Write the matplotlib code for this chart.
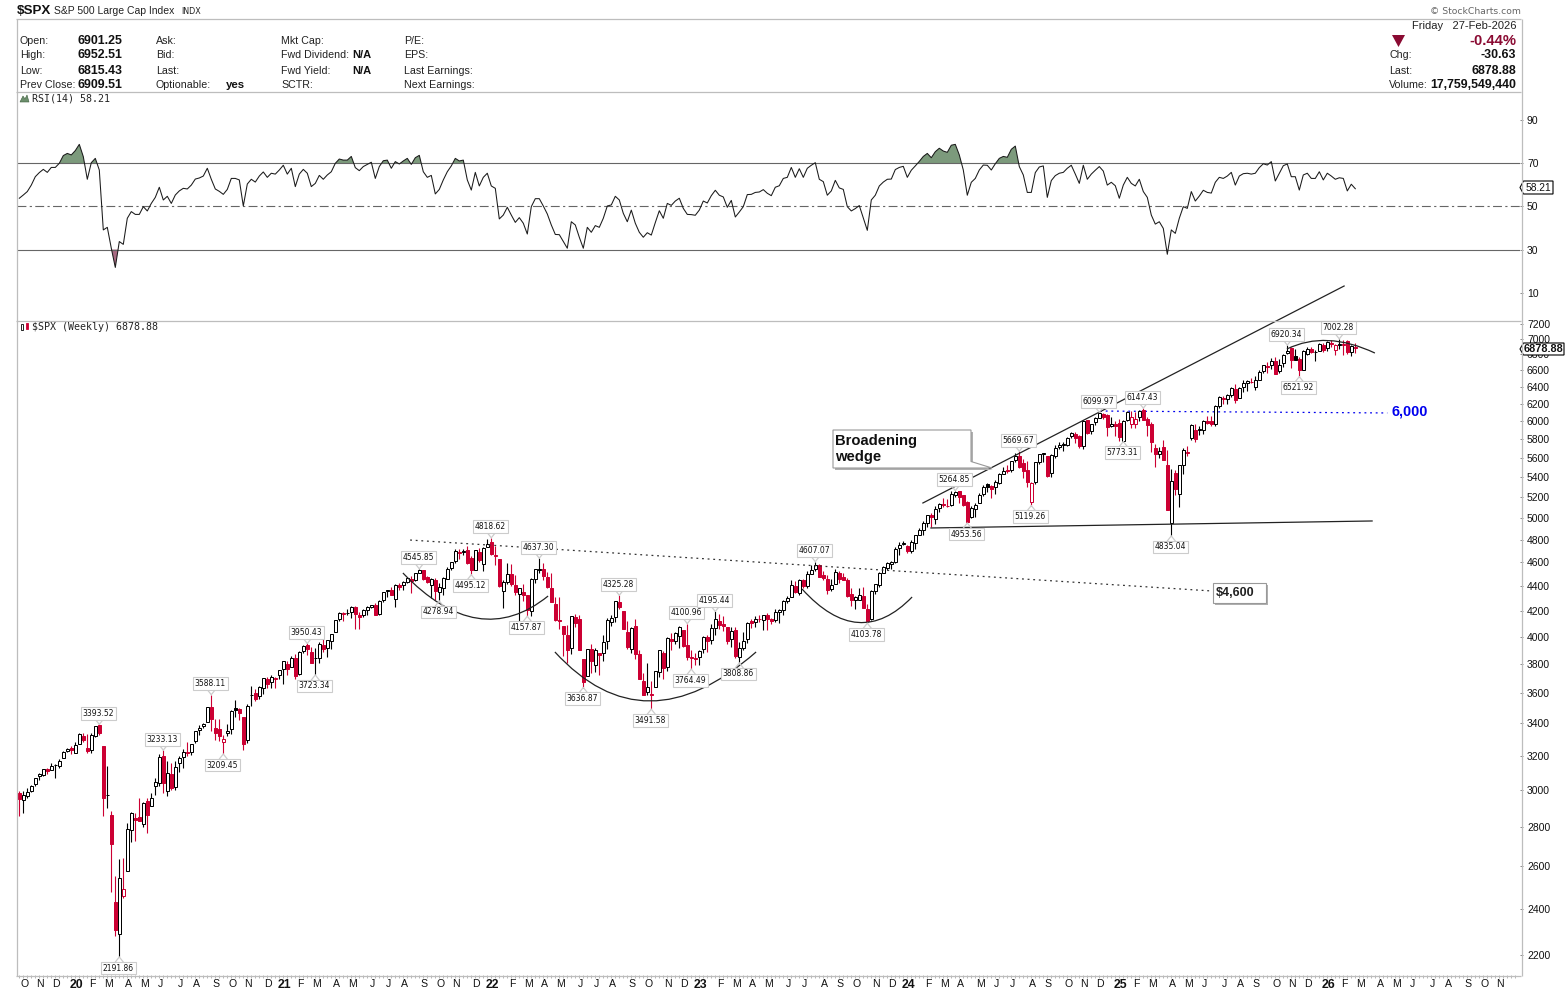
import numpy as np
import pandas as pd
import matplotlib
matplotlib.use("Agg")
import matplotlib.pyplot as plt
from matplotlib.path import Path
from matplotlib.patches import PathPatch, Polygon, Rectangle

# weekly bars, one row of ten per line, first bar is the week ending 4 Oct 2019
opens = [
    2983.7, 2944.2, 2965.8, 2996.5, 3032.1, 3079.0, 3087.0, 3122.0, 3117.0, 3143.0,
    3141, 3183, 3225, 3247, 3217, 3273, 3323, 3247, 3235, 3318,
    3388, 3257, 2974, 2863, 2431, 2290.7, 2458, 2578, 2782, 2845,
    2854, 2815, 2938, 2913, 3025, 3038, 3199, 2993, 3094, 3018,
    3155, 3191, 3224, 3219, 3288, 3356, 3380, 3410, 3507, 3371,
    3363, 3285, 3338, 3367, 3500, 3493, 3441, 3296, 3583, 3600,
    3579, 3634, 3698, 3675, 3694, 3723, 3764, 3803, 3781, 3844,
    3731, 3892, 3939, 3885, 3842, 3844, 3942, 3916, 3969, 4034,
    4139, 4173, 4185, 4191, 4229, 4169, 4168, 4207, 4232, 4248,
    4174, 4285, 4356, 4372, 4296, 4409, 4406, 4437, 4461, 4450,
    4513, 4535, 4474, 4406, 4450, 4348, 4385, 4463, 4553, 4610,
    4689, 4689, 4712, 4640, 4538, 4687, 4587, 4733, 4778, 4655,
    4632, 4356, 4431, 4505, 4412, 4332, 4354, 4327, 4202, 4462,
    4538, 4547, 4474, 4385, 4253, 4130, 4081, 4013, 3919, 4153,
    4134, 3838, 3715, 3913, 3792, 3880, 3883, 3966, 4112, 4155,
    4274, 4198, 4034, 3909, 4083, 3872, 3682, 3609, 3590, 3638,
    3746, 3881, 3780, 3982, 3966, 4005, 4052, 3939, 3853, 3843,
    3853, 3911, 3999, 3979, 4070, 4119, 4096, 4073, 3982, 4055,
    3855, 3917, 3982, 4119, 4110, 4140, 4132, 4166, 4136, 4126,
    4190, 4205, 4282, 4308, 4405, 4344, 4450, 4404, 4505, 4547,
    4578, 4492, 4458, 4380, 4415, 4511, 4474, 4453, 4337, 4284,
    4289, 4320, 4217, 4139, 4364, 4406, 4514, 4554, 4590, 4600,
    4725, 4758, 4745, 4697, 4772, 4845, 4892, 4957, 5026, 4989,
    5093, 5130, 5111, 5123, 5219, 5258, 5218, 5149, 5010, 5084,
    5142, 5233, 5328, 5315, 5297, 5341, 5433, 5473, 5471, 5572,
    5615, 5545, 5476, 5151, 5346, 5554, 5637, 5623, 5442, 5615,
    5711, 5737, 5737, 5833, 5851, 5833, 5723, 6008, 5893, 5992,
    6040, 6081, 6063, 5942, 5970, 5982, 5782, 6014, 5969, 5969,
    6046, 6121, 6026, 5968, 5705, 5635, 5718, 5527, 4953, 5441,
    5232, 5525, 5655, 5807, 5902, 5896, 5897, 6004, 6004, 5969,
    6173, 6259, 6255, 6304, 6372, 6271, 6400, 6445, 6457, 6401,
    6486, 6590, 6659, 6661, 6715, 6595, 6690, 6822, 6882, 6778,
    6737, 6600, 6812, 6870, 6834, 6846, 6923, 6878, 6944, 6861,
    6923, 6916, 6970, 6836, 6901.25,
]
highs = [
    2992.5, 2993.3, 3008.3, 3027.4, 3066.9, 3097.8, 3120.5, 3127.6, 3154.3, 3150.6,
    3182.7, 3225.6, 3247.9, 3258, 3282, 3337.8, 3337.6, 3333, 3337, 3385,
    3393.52, 3259.8, 3136.7, 2882.6, 2553.9, 2637, 2641, 2818.6, 2879, 2871,
    2954.9, 2934, 2955, 2981.9, 3068.7, 3211.7, 3233.13, 3165.8, 3155.5, 3165.8,
    3198, 3238, 3286, 3272, 3352, 3387, 3400, 3509, 3588.11, 3425,
    3428.9, 3329, 3397, 3486, 3550, 3502, 3441, 3529, 3646, 3628,
    3644, 3699, 3712, 3726, 3711, 3756, 3826, 3823, 3861, 3870.9,
    3894, 3937, 3950.43, 3928, 3914.5, 3960, 3983.9, 3978, 4020, 4129,
    4191, 4194, 4218.8, 4238, 4238, 4188, 4213, 4238, 4249, 4266,
    4286, 4355, 4372, 4393, 4415, 4429, 4440, 4468, 4481, 4513,
    4545.85, 4535, 4486, 4465, 4465, 4429, 4476, 4559, 4608, 4718,
    4714, 4717, 4743.8, 4652, 4713, 4731, 4740, 4808.9, 4818.62, 4749,
    4632, 4453, 4595, 4590, 4490, 4385, 4416, 4327, 4465, 4546,
    4637.30, 4593, 4521, 4513, 4308, 4307, 4081, 4091, 4158, 4178,
    4168, 3838, 3913, 3946, 3918, 3880, 4012, 4141, 4167, 4280,
    4325.28, 4203, 4119, 4076, 4139, 3906, 3736, 3806, 3685, 3752,
    3905, 3894, 3998, 4028, 4034, 4080, 4052, 4100.96, 3906, 3878,
    3906, 4003, 4015, 4094, 4195.44, 4176, 4156, 4073, 4078, 4078,
    3964, 4039, 4110, 4133, 4163, 4170, 4170, 4186, 4143, 4212,
    4212, 4290, 4322, 4448, 4439, 4458, 4456, 4527, 4578, 4607.07,
    4584, 4527, 4490, 4458, 4541, 4524, 4511, 4464, 4385, 4320,
    4385, 4393, 4256, 4365, 4421, 4521, 4568, 4608, 4609, 4739,
    4778, 4793, 4754, 4802, 4842, 4907, 4975, 5030, 5048, 5111,
    5140, 5189, 5179, 5261, 5264.85, 5264, 5222, 5168, 5114, 5146,
    5239, 5325, 5341.9, 5316, 5375, 5447, 5505, 5523, 5570, 5655,
    5669.67, 5585, 5566, 5352, 5555, 5643, 5651, 5623, 5636, 5733,
    5767, 5765, 5822, 5878, 5879, 5850, 6012, 6017, 5972, 6044,
    6099.97, 6090, 6085, 6049, 6000, 6021, 6014, 6118, 6120, 6101,
    6127, 6147.43, 6043, 5986, 5746, 5715, 5786, 5685, 5481, 5477,
    5528, 5700, 5720, 5969, 5968, 5944, 6016, 6059, 6059, 6187,
    6284, 6290, 6315, 6395, 6427, 6395, 6481, 6482, 6508, 6532,
    6600, 6672, 6699, 6750, 6764, 6744, 6807, 6920.34, 6894, 6869,
    6770, 6853, 6895, 6901, 6856, 6945, 6945, 6980, 6986, 6940,
    7002.28, 6986, 6986, 6920, 6952.51,
]
lows = [
    2855.9, 2874.9, 2952.9, 2991.2, 3023.2, 3056, 3078, 3090, 3117, 3070,
    3124, 3183, 3223, 3212, 3214, 3268, 3281, 3217, 3214, 3315,
    3328, 2855.8, 2901.5, 2478.9, 2280.5, 2191.86, 2447, 2574.7, 2721, 2727,
    2830, 2797, 2766.6, 2910, 2969, 3025, 2984, 2965.7, 2999, 3000,
    3101, 3127, 3200, 3204, 3279, 3327, 3369, 3410, 3349.6, 3293,
    3292, 3209.45, 3323, 3332, 3441, 3419, 3233.9, 3279, 3511, 3543,
    3559, 3594, 3633, 3636, 3636, 3694, 3662.7, 3720, 3781, 3694,
    3725, 3884, 3865, 3805, 3723.34, 3810, 3885, 3853, 3907, 4034,
    4118, 4118, 4170, 4142, 4056.9, 4061, 4155, 4167, 4220, 4164,
    4165, 4271, 4309, 4327, 4233, 4372, 4367, 4425, 4347, 4441,
    4513, 4447, 4427, 4305, 4288, 4278.94, 4329, 4459, 4537, 4595,
    4630, 4664, 4585, 4495.12, 4532, 4600, 4531, 4733, 4662, 4582,
    4395, 4222.6, 4414, 4401, 4327, 4114.7, 4279, 4157.87, 4161, 4424,
    4506, 4450, 4381, 4267, 4124, 4062, 3858.9, 3810, 3875, 4074,
    3900, 3636.87, 3715, 3738, 3742, 3721, 3819, 3910, 4079, 4112,
    4218, 4057, 3907, 3883, 3837, 3693, 3584, 3584, 3491.58, 3638,
    3710, 3698, 3749, 3906, 3944, 3918, 3923, 3827, 3764.49, 3796,
    3794, 3877, 3885, 3949, 4015, 4060, 4047, 3943, 3928, 3846,
    3808.86, 3901, 3951, 4069, 4073, 4114, 4049, 4049, 4098, 4110,
    4103, 4166, 4263, 4308, 4341, 4328, 4385, 4385, 4505, 4527,
    4474, 4448, 4335, 4356, 4415, 4430, 4447, 4315, 4238, 4216,
    4283, 4224, 4103.78, 4126, 4339, 4389, 4506, 4537, 4546, 4593,
    4666, 4751, 4682, 4682, 4714, 4845, 4845, 4918, 4920, 4946,
    5056, 5108, 5104, 5117, 5203, 5146, 5114, 4953.56, 5000, 5011,
    5142, 5211, 5256, 5191, 5234, 5331, 5428, 5447, 5451, 5552,
    5497, 5390, 5302, 5119.26, 5327, 5537, 5560, 5402, 5406, 5596,
    5698, 5674, 5730, 5815, 5762, 5702, 5696, 5853, 5857, 5960,
    6030, 6018, 5832, 5932, 5829, 5780, 5773.31, 5997, 5923, 5924,
    6003, 6008, 5837, 5666, 5504.7, 5597, 5572, 5074, 4835.04, 5220,
    5101, 5433, 5617, 5786, 5767, 5843, 5861, 5963, 5946, 5943,
    6146, 6201, 6201, 6281, 6212, 6271, 6340, 6343, 6444, 6360,
    6477, 6565, 6569, 6611, 6550.8, 6570, 6646, 6800, 6631, 6725,
    6521.92, 6600, 6799, 6819, 6720, 6846, 6825, 6850, 6900, 6789,
    6871, 6798, 6800, 6775, 6815.43,
]
closes = [
    2952.0, 2970.3, 2986.2, 3022.6, 3066.9, 3093.1, 3120.5, 3110.3, 3141.0, 3145.9,
    3168.8, 3221.2, 3240.0, 3234.9, 3265.4, 3329.6, 3295.5, 3225.5, 3327.7, 3380.2,
    3337.8, 2954.2, 2972.4, 2711.0, 2304.9, 2541.5, 2488.7, 2789.8, 2874.6, 2836.7,
    2830.7, 2929.8, 2863.7, 2955.5, 3044.3, 3193.9, 3041.3, 3097.7, 3009.1, 3130.0,
    3185.0, 3224.7, 3215.6, 3271.1, 3351.3, 3372.9, 3397.2, 3508, 3427, 3341,
    3319.5, 3298.5, 3348.4, 3477.1, 3483.8, 3465.4, 3270, 3509.4, 3585.2, 3557.5,
    3638.4, 3699.1, 3663.5, 3709.4, 3703.1, 3756.1, 3824.7, 3768.3, 3841.5, 3714.2,
    3886.8, 3934.8, 3906.7, 3811.2, 3841.9, 3943.3, 3913.1, 3974.5, 4019.9, 4128.8,
    4185.5, 4180.2, 4181.2, 4232.6, 4173.9, 4155.9, 4204.1, 4229.9, 4247.4, 4166.5,
    4280.7, 4352.3, 4369.6, 4327.2, 4411.8, 4395.3, 4436.5, 4468, 4441.7, 4509.4,
    4535.4, 4458.6, 4433, 4455.5, 4357, 4391.3, 4471.4, 4544.9, 4605.4, 4697.5,
    4682.9, 4698, 4594.6, 4538.4, 4712, 4620.6, 4725.8, 4766.2, 4677, 4662.9,
    4397.9, 4431.9, 4500.5, 4418.6, 4348.9, 4384.7, 4328.9, 4204.3, 4463.1, 4543.1,
    4545.9, 4488.3, 4392.6, 4271.8, 4131.9, 4123.3, 4023.9, 3901.4, 4158.2, 4108.5,
    3900.9, 3674.8, 3911.7, 3825.3, 3899.4, 3863.2, 3961.6, 4130.3, 4145.2, 4280.2,
    4228.5, 4057.7, 3924.3, 4067.4, 3873.3, 3693.2, 3585.6, 3639.7, 3583.1, 3752.8,
    3901.1, 3770.6, 3992.9, 3965.3, 4026.1, 4071.7, 3934.4, 3852.4, 3844.8, 3839.5,
    3895.1, 3999.1, 3972.6, 4070.6, 4136.5, 4090.5, 4079.1, 3970, 4045.6, 3861.6,
    3916.6, 3971, 4109.3, 4105, 4137.6, 4133.5, 4169.5, 4136.3, 4124.1, 4192,
    4205.5, 4282.4, 4298.9, 4409.6, 4348.3, 4450.4, 4399, 4505.4, 4536.3, 4582.2,
    4478, 4464.1, 4369.7, 4405.7, 4515.8, 4457.5, 4450.3, 4320.1, 4288.1, 4308.5,
    4327.8, 4224.2, 4117.4, 4358.3, 4415.2, 4514, 4559.3, 4594.6, 4604.4, 4719.2,
    4754.6, 4769.8, 4697.2, 4783.8, 4839.8, 4891, 4958.6, 5026.6, 5005.6, 5088.8,
    5137.1, 5123.7, 5117.1, 5234.2, 5254.4, 5204.3, 5123.4, 4967.2, 5100, 5127.8,
    5222.7, 5303.3, 5304.7, 5277.5, 5347, 5431.6, 5464.6, 5460.5, 5567.2, 5615.4,
    5505, 5459.1, 5346.6, 5344.2, 5554.3, 5634.6, 5648.4, 5408.4, 5626, 5702.6,
    5738.2, 5751.1, 5815, 5864.7, 5808.1, 5728.8, 5995.5, 5870.6, 5969.3, 6032.4,
    6090.3, 6051.1, 5930.9, 5970.8, 5942.5, 5827, 5996.7, 6101.2, 6040.5, 6026,
    6114.6, 6013.1, 5954.5, 5770.2, 5638.9, 5667.6, 5580.9, 5074.1, 5363.4, 5282.7,
    5525.2, 5686.7, 5659.9, 5958.4, 5802.8, 5911.7, 6000.4, 5977, 5967.8, 6173.1,
    6279.4, 6259.8, 6296.8, 6388.6, 6238, 6389.5, 6449.8, 6466.9, 6460.3, 6481.5,
    6584.3, 6664.4, 6643.7, 6715.8, 6552.5, 6664, 6791.7, 6840.2, 6728.8, 6734.1,
    6603, 6849.1, 6870.4, 6827.4, 6834.5, 6929.9, 6858.5, 6966.3, 6940, 6915.6,
    6939, 6932.3, 6836.2, 6909.51, 6878.88,
]
rsi_values = [
    53.8, 55.3, 56.9, 59.9, 63.8, 65.7, 67.2, 65.8, 68.1, 68.1,
    70.0, 73.6, 74.6, 73.9, 75.9, 78.8, 73.1, 62.6, 70.3, 72.3,
    66.9, 39.1, 40.3, 30.6, 21.7, 33.7, 32.4, 44.5, 47.6, 46.3,
    46.3, 49.9, 47.9, 51.4, 54.2, 58.9, 53.0, 54.7, 51.4, 55.3,
    57.2, 58.4, 58.1, 59.9, 62.7, 63.2, 64.1, 67.7, 62.6, 58.1,
    57.0, 55.6, 57.9, 63.0, 63.0, 62.3, 50.2, 60.4, 62.6, 61.3,
    64.1, 66.0, 63.5, 65.4, 65.0, 66.9, 69.1, 65.0, 67.7, 59.2,
    65.0, 67.2, 65.4, 59.2, 60.7, 64.4, 62.6, 64.6, 66.1, 70.0,
    72.0, 71.5, 71.5, 73.2, 68.0, 66.6, 68.5, 69.5, 70.5, 63.0,
    68.5, 71.2, 71.5, 67.7, 70.8, 69.7, 71.1, 72.3, 69.5, 72.6,
    73.7, 66.1, 63.5, 64.4, 55.8, 57.9, 62.3, 66.1, 68.8, 72.3,
    71.1, 71.5, 62.3, 57.6, 65.8, 59.5, 63.5, 65.4, 59.5, 58.4,
    44.2, 46.0, 49.6, 46.0, 42.6, 44.8, 42.2, 37.2, 49.9, 53.6,
    53.6, 50.2, 46.5, 41.4, 37.0, 36.9, 33.7, 30.6, 42.9, 41.4,
    35.7, 30.6, 40.3, 38.0, 41.1, 40.3, 44.5, 50.2, 50.7, 54.7,
    53.0, 46.8, 42.9, 48.3, 42.2, 38.0, 35.7, 37.8, 36.7, 42.5,
    48.0, 44.5, 51.4, 50.5, 52.5, 53.8, 49.1, 46.3, 46.2, 45.9,
    48.3, 52.5, 51.6, 55.0, 57.5, 55.2, 54.4, 49.6, 52.8, 45.1,
    47.4, 49.9, 55.5, 55.6, 56.5, 56.7, 57.8, 56.1, 55.0, 58.9,
    59.6, 63.0, 63.5, 68.1, 63.5, 67.5, 63.5, 67.7, 69.1, 70.3,
    62.6, 61.5, 55.2, 57.2, 62.1, 58.6, 57.9, 49.9, 47.9, 49.0,
    50.4, 44.6, 38.9, 53.0, 55.2, 59.5, 61.3, 62.6, 62.7, 67.1,
    68.1, 68.6, 63.5, 66.8, 68.8, 70.9, 73.2, 74.6, 72.6, 75.4,
    77.0, 75.7, 75.1, 78.4, 78.8, 73.9, 66.9, 55.2, 61.2, 63.0,
    66.9, 69.2, 69.1, 66.9, 69.8, 72.3, 73.2, 72.8, 76.5, 78.0,
    68.5, 64.6, 56.5, 56.5, 65.7, 68.3, 68.8, 54.2, 62.0, 64.3,
    65.4, 65.8, 67.7, 69.1, 65.0, 60.7, 69.1, 62.6, 65.0, 66.8,
    68.5, 66.4, 59.9, 61.2, 59.6, 53.8, 59.9, 63.5, 60.7, 59.5,
    62.6, 56.9, 54.2, 46.0, 41.8, 42.9, 39.8, 27.8, 39.1, 37.5,
    44.5, 49.9, 49.1, 56.9, 52.5, 54.8, 57.5, 56.5, 56.2, 61.2,
    63.5, 63.0, 64.1, 65.8, 59.9, 64.1, 65.2, 65.4, 65.0, 65.4,
    68.0, 69.8, 69.2, 70.8, 61.8, 65.4, 68.9, 69.7, 63.8, 63.8,
    57.6, 64.6, 65.4, 63.0, 63.0, 66.1, 62.3, 65.4, 64.1, 62.6,
    63.3, 63.0, 57.2, 60.3, 58.21,
]

high_labels = [3393.52, 3233.13, 3588.11, 3950.43, 4545.85, 4818.62, 4637.30, 4325.28, 4100.96,
               4195.44, 4607.07, 5264.85, 5669.67, 6099.97, 6147.43, 6920.34, 7002.28]
low_labels = [2191.86, 3209.45, 3723.34, 4278.94, 4495.12, 4157.87, 3636.87, 3491.58, 3764.49,
              3808.86, 4103.78, 4953.56, 5119.26, 5773.31, 4835.04, 6521.92]

price_ticks = list(range(2200, 7400, 200))
rsi_ticks = [10, 30, 50, 70, 90]

# drawn trend lines: (week index, price)
upper_wedge = ([225.9, 331.2], [5144, 7733])
lower_wedge = ([227.9, 338.2], [4908, 4973])
neckline = ([97.7, 298.2], [4798, 4360])
level_6000 = ([270.2, 342.0], [6114, 6092])
# arcs: start, control, end
arcs = [
    [(95.9, 4510), (114.9, 3888), (132.2, 4319)],
    [(133.9, 3888), (156.3, 3234), (184.2, 3888)],
    [(195.7, 4376), (209.9, 3888), (223.2, 4311)],
    [(316.9, 6870), (326.7, 7120), (338.9, 6818)],
]

W, H = 1565, 992
RED = "#cc0033"
GRAY = "#bdbdbd"
DARK_RED = "#8a0a32"
plt.rcParams["font.family"] = ["Liberation Sans", "DejaVu Sans"]

opens, highs, lows, closes = map(np.array, (opens, highs, lows, closes))
rsi_values = np.array(rsi_values)
assert len(opens) == len(highs) == len(lows) == len(closes) == len(rsi_values) == 335, \
    (len(opens), len(highs), len(lows), len(closes), len(rsi_values))
x = np.arange(len(closes))

fig = plt.figure(figsize=(W / 100, H / 100), dpi=100, facecolor="white")


def axes_px(left, top, right, bottom, **kw):
    return fig.add_axes([left / W, 1 - bottom / H, (right - left) / W, (bottom - top) / H], **kw)


ax_rsi = axes_px(17, 92, 1520, 320)
ax = axes_px(17, 321, 1520, 975)
over = fig.add_axes([0, 0, 1, 1], zorder=5, facecolor="none")
over.set_xlim(0, W)
over.set_ylim(H, 0)
over.axis("off")

xlim = (-0.575, 375.175)

# RSI panel
ax_rsi.set_xlim(xlim)
ax_rsi.set_ylim(-2.7, 103.1)
for s in ax_rsi.spines.values():
    s.set_visible(False)
ax_rsi.axhline(70, color="#666666", lw=0.8)
ax_rsi.axhline(30, color="#666666", lw=0.8)
ax_rsi.axhline(50, color="#666666", lw=0.8, dashes=(8, 3, 2, 3))
ax_rsi.fill_between(x, rsi_values, 70, where=rsi_values > 70, interpolate=True, color="#7c9a7c", lw=0)
ax_rsi.fill_between(x, rsi_values, 30, where=rsi_values < 30, interpolate=True, color="#a86a82", lw=0)
ax_rsi.plot(x, rsi_values, color="#1a1a1a", lw=0.75)
ax_rsi.set_xticks([])
ax_rsi.yaxis.tick_right()
ax_rsi.set_yticks(rsi_ticks)
ax_rsi.tick_params(axis="y", length=2, width=0.7, color="#888888", labelsize=7.5, pad=3, labelcolor="#111111")

# price panel
ax.set_yscale("log")
ax.set_xlim(xlim)
ax.set_ylim(2119, 7241)
ax.patch.set_alpha(0)
for s in ax.spines.values():
    s.set_visible(False)

prev = np.r_[closes[0] + 1, closes[:-1]]
up_day = closes >= prev
wick_colors = np.where(up_day, "black", RED)
ax.vlines(x, lows, highs, colors=wick_colors, lw=0.8, zorder=2)
body_low = np.minimum(opens, closes)
body_h = np.abs(closes - opens)
hollow = closes >= opens
for mask, face, edge in [
    (hollow & up_day, "white", "black"),
    (hollow & ~up_day, "white", RED),
    (~hollow & up_day, "black", "black"),
    (~hollow & ~up_day, RED, RED),
]:
    ax.bar(x[mask], body_h[mask], bottom=body_low[mask], width=0.78,
           facecolor=face, edgecolor=edge, lw=0.72, zorder=3)

ax.plot(*upper_wedge, color="#222222", lw=0.9, zorder=4, clip_on=False)
ax.plot(*lower_wedge, color="#222222", lw=0.9, zorder=4)
ax.plot(*neckline, color="#333333", lw=0.9, dashes=(1.5, 3), zorder=4)
ax.plot(*level_6000, color="#0000ee", lw=0.9, dashes=(1.5, 3), zorder=1)
for p0, c, p2 in arcs:
    ax.add_patch(PathPatch(Path([p0, c, p2], [Path.MOVETO, Path.CURVE3, Path.CURVE3]),
                           fc="none", ec="#222222", lw=0.9, zorder=4))

# week ticks along the bottom, month letters on the first bar whose Monday falls in the month
weeks = pd.date_range("2019-10-04", periods=375, freq="W-FRI")
mondays = weeks - pd.Timedelta(days=4)
first_of_month = [i for i in range(1, len(weeks)) if mondays[i].month != mondays[i - 1].month]
month_text = []
for i in first_of_month:
    d = mondays[i]
    month_text.append(f"{d.year % 100}" if d.month == 1 else d.strftime("%b")[0])
ax.set_xticks(x[:0])
ax.set_xticks(np.arange(len(weeks)), minor=True)
ax.tick_params(axis="x", which="minor", length=2, width=0.6, color="#aaaaaa")
for i, t in zip(first_of_month, month_text):
    is_year = t.isdigit()
    ax.text(i + 0.2, -0.006, t, transform=ax.get_xaxis_transform(), ha="center", va="top",
            fontsize=8.8 if is_year else 7.6, fontweight="bold" if is_year else "normal", color="#111111")

ax.yaxis.tick_right()
ax.set_yticks(price_ticks)
ax.set_yticklabels([str(t) for t in price_ticks])
ax.yaxis.set_minor_locator(matplotlib.ticker.NullLocator())
ax.tick_params(axis="y", length=2, width=0.7, color="#888888", labelsize=7.5, pad=3, labelcolor="#111111")


def value_label(value, series, above):
    i = int(np.argmin(np.abs(series - value)))
    sign = 1 if above else -1
    for side in (-4, 4):
        ax.annotate("", xy=(i, value), xytext=(side, sign * 5), textcoords="offset pixels",
                    arrowprops=dict(arrowstyle="-", color="#cccccc", lw=0.9, shrinkA=0, shrinkB=0), zorder=6)
    ax.annotate(f"{value:.2f}", xy=(i, value), xytext=(-1, sign * 11), textcoords="offset pixels",
                ha="center", va="center", fontsize=5.5, family="DejaVu Sans", color="#111111", zorder=7,
                bbox=dict(boxstyle="square,pad=0.25", fc="white", ec="#cccccc", lw=0.8))


for v in high_labels:
    value_label(v, highs, True)
for v in low_labels:
    value_label(v, lows, False)

# frame and header
for seg in [((16, 19), (1521, 19)), ((16, 91.5), (1521, 91.5)), ((16, 320.5), (1521, 320.5)),
            ((16, 975.5), (1521, 975.5)), ((16.5, 19), (16.5, 975.5)), ((1521.5, 19), (1521.5, 975.5))]:
    over.plot(*zip(*seg), color=GRAY, lw=0.9, solid_capstyle="butt")

over.text(17, 11, "$SPX", fontsize=9.6, fontweight="bold", va="center", color="#111111")
over.text(54, 11, "S&P 500 Large Cap Index", fontsize=7.45, va="center", color="#222222")
over.text(181, 11.5, "INDX", fontsize=5.8, va="center", family="DejaVu Sans", color="#222222")
over.text(1521, 11, "© StockCharts.com", fontsize=6.7, va="center", ha="right", family="DejaVu Sans", color="#666666")

col1 = ["Open:", "High:", "Low:", "Prev Close:"]
col1_vals = ["6901.25", "6952.51", "6815.43", "6909.51"]
col2 = ["Ask:", "Bid:", "Last:", "Optionable:"]
col3 = ["Mkt Cap:", "Fwd Dividend:", "Fwd Yield:", "SCTR:"]
col4 = ["P/E:", "EPS:", "Last Earnings:", "Next Earnings:"]
rows_y = [41.5, 55.5, 70.5, 84.5]
for y, a, v, b, c, d in zip(rows_y, col1, col1_vals, col2, col3, col4):
    over.text(20, y, a, fontsize=7.7, va="center", color="#222222")
    over.text(77, y, v, fontsize=8.9, va="center", fontweight="bold", color="#111111")
    over.text(156, y, b, fontsize=7.7, va="center", color="#222222")
    over.text(281, y, c, fontsize=7.7, va="center", color="#222222")
    over.text(404, y, d, fontsize=7.7, va="center", color="#222222")
over.text(226, 85, "yes", fontsize=8.2, va="center", fontweight="bold", color="#111111")
over.text(352, 55.5, "N/A", fontsize=8, va="center", fontweight="bold", color="#111111")
over.text(352, 70.5, "N/A", fontsize=8, va="center", fontweight="bold", color="#111111")

over.text(1516, 26, "Friday   27-Feb-2026", fontsize=8, va="center", ha="right", color="#222222")
over.text(1516, 41, "-0.44%", fontsize=10.6, va="center", ha="right", fontweight="bold", color=DARK_RED)
over.add_patch(Polygon([(1392, 35), (1405, 35), (1398.5, 47)], fc=DARK_RED, ec="none"))
for y, a, v in zip(rows_y[1:], ["Chg:", "Last:", "Volume:"], ["-30.63", "6878.88", "17,759,549,440"]):
    over.text(1389, y, a, fontsize=7.7, va="center", color="#222222")
    over.text(1516, y, v, fontsize=8.9, va="center", ha="right", fontweight="bold", color="#111111")

# panel captions
over.add_patch(Polygon([(20, 102), (23, 96), (25, 99), (27, 95), (29, 102)], fc="#6d8f6d", ec="#3d5f3d", lw=0.4))
over.text(32, 98.5, "RSI(14) 58.21", fontsize=7.2, va="center", family="DejaVu Sans Mono", color="#222222")
over.add_patch(Rectangle((21, 324), 2.4, 6, fc="white", ec="black", lw=0.6))
over.add_patch(Rectangle((25.5, 323), 2.4, 6, fc=RED, ec=RED, lw=0.6))
over.text(32, 327.5, "$SPX (Weekly) 6878.88", fontsize=7.2, va="center", family="DejaVu Sans Mono", color="#222222")

# value flags on the right edge
over.add_patch(Polygon([(1520, 187.5), (1523.5, 181), (1553, 181), (1553, 194), (1523.5, 194)],
                       fc="white", ec="black", lw=0.8))
over.text(1538.5, 187.7, "58.21", fontsize=7.4, va="center", ha="center", color="#111111")
over.add_patch(Polygon([(1520, 349), (1523.5, 343), (1564, 343), (1564, 355), (1523.5, 355)],
                       fc="white", ec="black", lw=0.8))
over.text(1544, 349, "6878.88", fontsize=7.8, va="center", ha="center", fontweight="bold", color="#111111")

# callouts
over.add_patch(Polygon([(835, 432), (973, 432), (973, 464), (993, 470), (835, 470)], fc="#b0b0b0", ec="none"))
over.add_patch(Polygon([(833, 430), (971, 430), (971, 461.5), (992, 468), (833, 468)],
                       fc="white", ec="#999999", lw=0.8))
over.text(835, 440.5, "Broadening", fontsize=10.6, va="center", fontweight="bold", color="#111111")
over.text(835, 456.5, "wedge", fontsize=10.6, va="center", fontweight="bold", color="#111111")

over.add_patch(Rectangle((1215, 585), 53, 20, fc="#b0b0b0", ec="none"))
over.add_patch(Rectangle((1213, 583), 53, 20, fc="white", ec="#999999", lw=0.8))
over.text(1216, 593, "$4,600", fontsize=9, va="center", fontweight="bold", color="#222222")

over.text(1391, 411.5, "6,000", fontsize=10.4, va="center", fontweight="bold", color="#0000ee")

fig.savefig("out.png", dpi=100)
